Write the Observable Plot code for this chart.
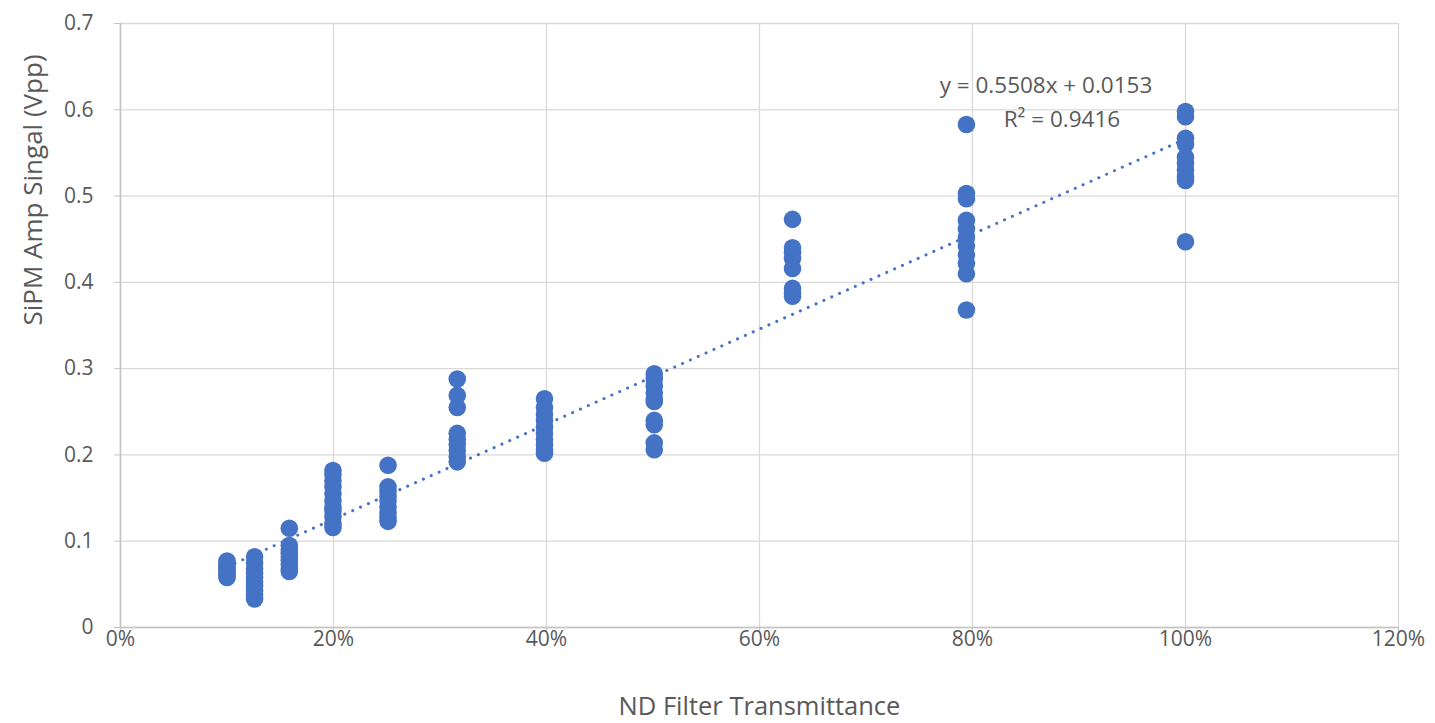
<!DOCTYPE html>
<html>
<head>
<meta charset="utf-8">
<script src="https://cdn.jsdelivr.net/npm/d3@7"></script>
<script src="https://cdn.jsdelivr.net/npm/@observablehq/plot@0.6"></script>
<style>
  html, body { margin: 0; padding: 0; background: #ffffff; }
  #chart { width: 1435px; height: 723px; }
</style>
</head>
<body>
<div id="chart"></div>
<script>
// ND filter transmittance steps (x categories)
const transmittance = [0.1, 0.1259, 0.1585, 0.1995, 0.2512, 0.3162, 0.3981, 0.5012, 0.6310, 0.7943, 1.0];

// SiPM amp signal readings (Vpp) for each transmittance step
const signal10  = [0.058, 0.060, 0.063, 0.066, 0.068, 0.070, 0.072, 0.075, 0.077];
const signal13  = [0.033, 0.038, 0.043, 0.048, 0.053, 0.058, 0.063, 0.068, 0.075, 0.082];
const signal16  = [0.065, 0.068, 0.073, 0.078, 0.082, 0.086, 0.090, 0.095, 0.115];
const signal20  = [0.116, 0.120, 0.128, 0.135, 0.140, 0.147, 0.155, 0.163, 0.170, 0.177, 0.182];
const signal25  = [0.123, 0.127, 0.133, 0.140, 0.147, 0.152, 0.158, 0.163, 0.188];
const signal32  = [0.192, 0.198, 0.205, 0.212, 0.218, 0.225, 0.255, 0.269, 0.288];
const signal40  = [0.202, 0.206, 0.212, 0.218, 0.225, 0.232, 0.240, 0.247, 0.255, 0.265];
const signal50  = [0.206, 0.214, 0.235, 0.240, 0.262, 0.265, 0.272, 0.280, 0.288, 0.294];
const signal63  = [0.384, 0.388, 0.393, 0.416, 0.428, 0.435, 0.440, 0.473];
const signal79  = [0.368, 0.410, 0.422, 0.432, 0.442, 0.452, 0.462, 0.472, 0.497, 0.503, 0.583];
const signal100 = [0.447, 0.518, 0.522, 0.530, 0.538, 0.545, 0.560, 0.567, 0.592, 0.598];
const signalGroups = [signal10, signal13, signal16, signal20, signal25, signal32, signal40, signal50, signal63, signal79, signal100];

// Trendline reported on the chart
const trendSlope = 0.5508;
const trendIntercept = 0.0153;
const trendLabel = "y = 0.5508x + 0.0153";
const r2Label = "R² = 0.9416";

// Axis ticks
const xTicks = [0, 0.2, 0.4, 0.6, 0.8, 1.0, 1.2];
const yTicks = [0, 0.1, 0.2, 0.3, 0.4, 0.5, 0.6, 0.7];

const points = signalGroups.flatMap((vals, i) => vals.map(v => ({x: transmittance[i], y: v})));
const xMin = d3.min(transmittance), xMax = d3.max(transmittance);
const trend = [xMin, xMax].map(x => ({x, y: trendSlope * x + trendIntercept}));

const labelColor = "#595959";
const font = "'Open Sans', sans-serif";

const chart = Plot.plot({
  width: 1435,
  height: 723,
  marginLeft: 120,
  marginRight: 37,
  marginTop: 23,
  marginBottom: 96,
  style: {fontFamily: font, background: "#ffffff", overflow: "visible"},
  x: {domain: [0, 1.2]},
  y: {domain: [0, 0.7]},
  marks: [
    Plot.gridX(xTicks, {stroke: "#d9d9d9", strokeOpacity: 1, strokeWidth: 1.3}),
    Plot.gridY(yTicks, {stroke: "#d9d9d9", strokeOpacity: 1, strokeWidth: 1.3}),
    Plot.ruleY([0], {stroke: "#c4c4c4", strokeWidth: 1.6}),
    Plot.ruleX([0], {stroke: "#c4c4c4", strokeWidth: 1.6}),
    Plot.axisX({ticks: xTicks, tickFormat: d3.format(".0%"), tickSize: 5, tickPadding: -1,
      stroke: "#c4c4c4", fill: labelColor, fontSize: 21, label: null}),
    Plot.axisY({ticks: yTicks, tickFormat: d => String(+d.toFixed(1)), tickSize: 6, tickPadding: 21,
      stroke: "#c4c4c4", fill: labelColor, fontSize: 21, label: null}),
    Plot.line(trend, {x: "x", y: "y", stroke: "#4472C4", strokeWidth: 3,
      strokeDasharray: "0.1 8.5", strokeLinecap: "round"}),
    Plot.dot(points, {x: "x", y: "y", r: 8.8, fill: "#4472C4", stroke: "none"}),
    Plot.text([trendLabel], {x: 0.869, y: 0.628, text: d => d, fontSize: 22.5, fill: labelColor, textAnchor: "middle"}),
    Plot.text([r2Label], {x: 0.884, y: 0.588, text: d => d, fontSize: 22.5, fill: labelColor, textAnchor: "middle"}),
    Plot.text(["ND Filter Transmittance"], {frameAnchor: "bottom", lineAnchor: "middle", dy: 79, text: d => d, fontSize: 25.5, fill: labelColor}),
    Plot.text(["SiPM Amp Singal (Vpp)"], {frameAnchor: "left", lineAnchor: "middle", dx: -87, rotate: -90, text: d => d, fontSize: 26, fill: labelColor})
  ]
});
document.getElementById("chart").appendChild(chart);
</script>
</body>
</html>
